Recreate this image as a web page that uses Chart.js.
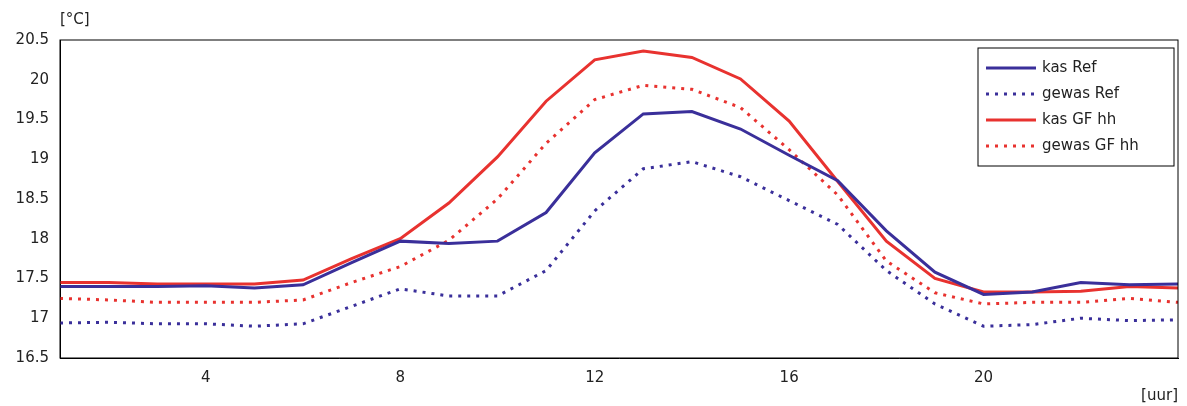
<!DOCTYPE html>
<html>
<head>
<meta charset="utf-8">
<script src="https://cdn.jsdelivr.net/npm/chart.js@4/dist/chart.umd.min.js"></script>
<style>
  html, body { margin: 0; padding: 0; background: #fff; }
  #wrap { width: 1187px; height: 406px; }
</style>
</head>
<body>
<div id="wrap"><canvas id="myChart"></canvas></div>
<script>
var hours = [1,2,3,4,5,6,7,8,9,10,11,12,13,14,15,16,17,18,19,20,21,22,23,24];
var kasRef = [17.4,17.4,17.4,17.41,17.38,17.42,17.7,17.97,17.94,17.97,18.33,19.08,19.57,19.6,19.38,19.05,18.73,18.1,17.58,17.3,17.33,17.45,17.42,17.43];
var gewasRef = [16.94,16.95,16.93,16.93,16.9,16.93,17.15,17.37,17.28,17.28,17.6,18.35,18.88,18.97,18.78,18.48,18.18,17.6,17.18,16.9,16.92,17.0,16.97,16.98];
var kasGF = [17.45,17.45,17.43,17.43,17.43,17.48,17.75,18.0,18.45,19.03,19.73,20.25,20.36,20.28,20.01,19.48,18.72,17.97,17.5,17.33,17.33,17.34,17.4,17.38];
var gewasGF = [17.25,17.23,17.2,17.2,17.2,17.23,17.45,17.65,17.98,18.5,19.2,19.75,19.93,19.88,19.65,19.12,18.55,17.72,17.32,17.18,17.2,17.2,17.25,17.2];
var xTicks = [4,8,12,16,20];

var blue = "#3a2f9a";
var red = "#e8322f";
var font = "DejaVu Sans";

function pts(arr) {
  return arr.map(function (v, i) { return { x: hours[i], y: v }; });
}

// legend box + unit labels + frame
var extras = {
  id: "extras",
  afterDraw: function (chart) {
    var c = chart.ctx, a = chart.chartArea;
    c.save();
    c.strokeStyle = "#000";
    c.lineWidth = 1;
    c.strokeRect(a.left, a.top, a.right - a.left, a.bottom - a.top);
    c.fillStyle = "#222";
    c.font = "15px " + font;
    c.textBaseline = "alphabetic";
    c.textAlign = "left";
    c.fillText("[°C]", 60, 24);
    c.textAlign = "right";
    c.fillText("[uur]", 1178, 400);

    var bx = 978, by = 48, bw = 196, bh = 118;
    c.fillStyle = "#fff";
    c.fillRect(bx, by, bw, bh);
    c.strokeRect(bx, by, bw, bh);
    c.textAlign = "left";
    c.textBaseline = "middle";
    chart.data.datasets.forEach(function (ds, i) {
      var y = by + 20 + i * 26;
      c.strokeStyle = ds.borderColor;
      c.lineWidth = 3;
      c.setLineDash(ds.borderDash || []);
      c.beginPath();
      c.moveTo(bx + 8, y);
      c.lineTo(bx + 58, y);
      c.stroke();
      c.setLineDash([]);
      c.fillStyle = "#222";
      c.fillText(ds.label, bx + 64, y);
    });
    c.restore();
  }
};

var myChart = new Chart(document.getElementById("myChart"), {
  type: "line",
  data: {
    datasets: [
      { label: "kas Ref", data: pts(kasRef), borderColor: blue, borderWidth: 3 },
      { label: "gewas Ref", data: pts(gewasRef), borderColor: blue, borderWidth: 3, borderDash: [3, 6] },
      { label: "kas GF hh", data: pts(kasGF), borderColor: red, borderWidth: 3 },
      { label: "gewas GF hh", data: pts(gewasGF), borderColor: red, borderWidth: 3, borderDash: [3, 6] }
    ]
  },
  options: {
    responsive: true,
    maintainAspectRatio: false,
    animation: false,
    elements: { point: { radius: 0 }, line: { tension: 0 } },
    layout: { padding: { left: 0, right: 9, top: 40, bottom: 16 } },
    plugins: { legend: { display: false }, tooltip: { enabled: false } },
    scales: {
      x: {
        type: "linear", min: 1, max: 24,
        afterBuildTicks: function (s) { s.ticks = xTicks.map(function (v) { return { value: v }; }); },
        grid: { display: false, drawTicks: true },
        border: { color: "#000" },
        ticks: { color: "#222", font: { family: font, size: 15 }, maxRotation: 0 }
      },
      y: {
        min: 16.5, max: 20.5,
        afterFit: function (s) { s.width = 60; },
        grid: { display: false },
        border: { color: "#000" },
        ticks: {
          stepSize: 0.5, color: "#222", font: { family: font, size: 15 },
          callback: function (v) { return String(Math.round(v * 10) / 10); }
        }
      }
    }
  },
  plugins: [extras]
});
</script>
</body>
</html>
